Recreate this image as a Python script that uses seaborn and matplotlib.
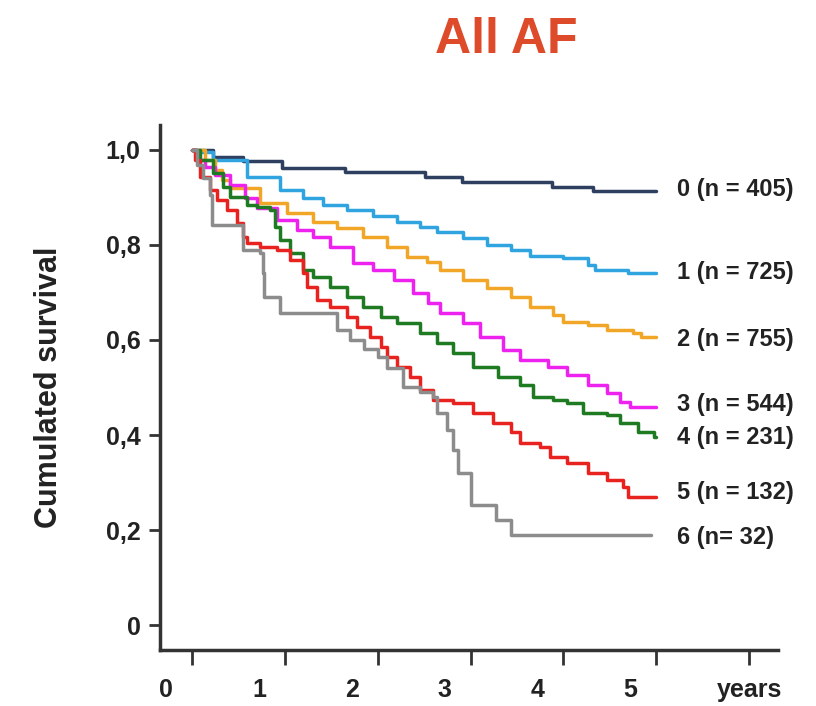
import matplotlib
matplotlib.use("Agg")
import matplotlib.pyplot as plt
import matplotlib.transforms as mtransforms
import seaborn as sns
import pandas as pd

# ---- data ----
t0 = [0, 0.23, 0.55, 0.97, 1.65, 2.51, 2.91, 3.88, 4.32, 5.0]
s0 = [1.0, 0.986, 0.977, 0.962, 0.954, 0.944, 0.933, 0.923, 0.914, 0.914]

t1 = [0, 0.03, 0.23, 0.59, 0.95, 1.20, 1.41, 1.67, 1.95, 2.21, 2.46, 2.64, 2.92, 3.18, 3.43, 3.64, 4.00, 4.26, 4.34, 4.69, 5.0]
s1 = [1.0, 0.996, 0.979, 0.944, 0.916, 0.899, 0.884, 0.874, 0.860, 0.849, 0.838, 0.828, 0.814, 0.800, 0.789, 0.777, 0.773, 0.758, 0.747, 0.741, 0.741]

t2 = [0, 0.14, 0.25, 0.32, 0.41, 0.73, 1.02, 1.30, 1.56, 1.84, 2.10, 2.32, 2.53, 2.67, 2.92, 3.18, 3.43, 3.64, 3.89, 4.00, 4.26, 4.47, 4.75, 4.83, 5.0]
s2 = [1.0, 0.979, 0.958, 0.937, 0.920, 0.888, 0.867, 0.849, 0.836, 0.817, 0.796, 0.775, 0.764, 0.747, 0.726, 0.709, 0.691, 0.669, 0.653, 0.638, 0.632, 0.621, 0.615, 0.606, 0.606]

t3 = [0, 0.05, 0.14, 0.25, 0.41, 0.57, 0.70, 0.92, 1.13, 1.30, 1.49, 1.73, 1.95, 2.17, 2.38, 2.54, 2.67, 2.92, 3.10, 3.35, 3.53, 3.83, 4.04, 4.26, 4.47, 4.61, 4.72, 5.0]
s3 = [1.0, 0.979, 0.964, 0.947, 0.926, 0.899, 0.878, 0.853, 0.832, 0.817, 0.796, 0.762, 0.747, 0.726, 0.699, 0.678, 0.657, 0.636, 0.606, 0.579, 0.558, 0.543, 0.526, 0.505, 0.488, 0.469, 0.459, 0.459]

t4 = [0, 0.09, 0.23, 0.33, 0.41, 0.59, 0.70, 0.84, 0.89, 0.95, 1.06, 1.20, 1.30, 1.49, 1.67, 1.84, 2.03, 2.21, 2.46, 2.64, 2.81, 3.03, 3.29, 3.53, 3.67, 3.89, 4.04, 4.21, 4.47, 4.61, 4.80, 4.97, 5.0]
s4 = [1.0, 0.979, 0.952, 0.922, 0.901, 0.884, 0.880, 0.874, 0.838, 0.811, 0.783, 0.747, 0.733, 0.712, 0.691, 0.669, 0.648, 0.636, 0.615, 0.594, 0.573, 0.543, 0.522, 0.505, 0.480, 0.474, 0.467, 0.446, 0.442, 0.425, 0.406, 0.396, 0.396]

t5 = [0, 0.03, 0.09, 0.19, 0.27, 0.38, 0.48, 0.55, 0.59, 0.73, 0.92, 1.06, 1.20, 1.24, 1.35, 1.49, 1.67, 1.78, 1.92, 2.03, 2.10, 2.21, 2.35, 2.46, 2.60, 2.81, 3.03, 3.24, 3.43, 3.53, 3.75, 3.86, 4.04, 4.26, 4.47, 4.64, 4.69, 5.0]
s5 = [1.0, 0.979, 0.943, 0.916, 0.895, 0.874, 0.846, 0.817, 0.804, 0.796, 0.789, 0.768, 0.741, 0.712, 0.684, 0.669, 0.648, 0.627, 0.606, 0.585, 0.564, 0.543, 0.522, 0.495, 0.474, 0.467, 0.446, 0.425, 0.406, 0.383, 0.375, 0.354, 0.341, 0.320, 0.305, 0.291, 0.269, 0.269]

t6 = [0, 0.05, 0.12, 0.19, 0.22, 0.55, 0.73, 0.76, 0.78, 0.95, 1.56, 1.70, 1.85, 2.00, 2.10, 2.27, 2.45, 2.60, 2.64, 2.75, 2.81, 2.86, 3.00, 3.27, 3.43, 4.94]
s6 = [1.0, 0.969, 0.94, 0.906, 0.842, 0.789, 0.783, 0.741, 0.69, 0.657, 0.621, 0.60, 0.58, 0.565, 0.54, 0.50, 0.49, 0.48, 0.446, 0.41, 0.368, 0.32, 0.253, 0.221, 0.189, 0.189]

groups = ["0 (n = 405)", "1 (n = 725)", "2 (n = 755)", "3 (n = 544)",
          "4 (n = 231)", "5 (n = 132)", "6 (n= 32)"]
label_y = [0.916, 0.743, 0.602, 0.465, 0.394, 0.28, 0.185]
colors = ["#2E3F5F", "#2FA4DE", "#F2A628", "#EE22EE", "#1E7B22", "#E8231F", "#8C8C8C"]

x_ticks = [0, 1, 2, 3, 4, 5, 6]
x_ticklabels = ["0", "1", "2", "3", "4", "5", "years"]
y_ticks = [0, 0.2, 0.4, 0.6, 0.8, 1.0]
y_ticklabels = ["0", "0,2", "0,4", "0,6", "0,8", "1,0"]

# ---- build long table ----
times = [t0, t1, t2, t3, t4, t5, t6]
survs = [s0, s1, s2, s3, s4, s5, s6]
rows = []
for g, tt, ss in zip(groups, times, survs):
    for a, b in zip(tt, ss):
        rows.append({"years": a, "survival": b, "group": g})
df = pd.DataFrame(rows)

sns.set_style("white")
plt.rcParams["font.family"] = ["Liberation Sans", "DejaVu Sans"]

fig = plt.figure(figsize=(8.16, 7.06), dpi=100)
ax = fig.add_axes([160 / 816, 56 / 706, 618 / 816, 525 / 706])

sns.lineplot(data=df, x="years", y="survival", hue="group", palette=colors,
             hue_order=groups, drawstyle="steps-post", estimator=None,
             linewidth=2.5, legend=False, ax=ax)

ax.set_xlim(-0.345, 6.31)
ax.set_ylim(-0.0526, 1.0526)
ax.set_xticks(x_ticks)
ax.set_xticklabels(x_ticklabels, fontsize=18, fontweight="bold", color="#222222")
ax.set_yticks(y_ticks)
ax.set_yticklabels(y_ticklabels, fontsize=18, fontweight="bold", color="#222222")
ax.set_xlabel("")
ax.set_ylabel("Cumulated survival", fontsize=22, fontweight="bold",
              color="#222222", labelpad=30)

for side in ["top", "right"]:
    ax.spines[side].set_visible(False)
for side in ["left", "bottom"]:
    ax.spines[side].set_color("#333333")
    ax.spines[side].set_linewidth(2.5)

ax.tick_params(axis="x", bottom=True, direction="out", length=11, width=2,
               color="#333333", pad=9)
ax.tick_params(axis="y", left=True, direction="out", length=8, width=2,
               color="#333333", pad=6)

# numeric x labels sit left of their ticks in the reference
shift = mtransforms.ScaledTranslation(-26 / 100, 0, fig.dpi_scale_trans)
for lab in ax.get_xticklabels()[:6]:
    lab.set_transform(lab.get_transform() + shift)

for g, yv in zip(groups, label_y):
    ax.text(5.22, yv, g, fontsize=17, fontweight="bold", color="#222222",
            va="center", ha="left", clip_on=False)

fig.text(0.621, 1 - 53 / 706, "All AF", fontsize=36, fontweight="bold",
         color="#DD4B2B", ha="center", va="baseline")

fig.savefig("out.png", dpi=100)
